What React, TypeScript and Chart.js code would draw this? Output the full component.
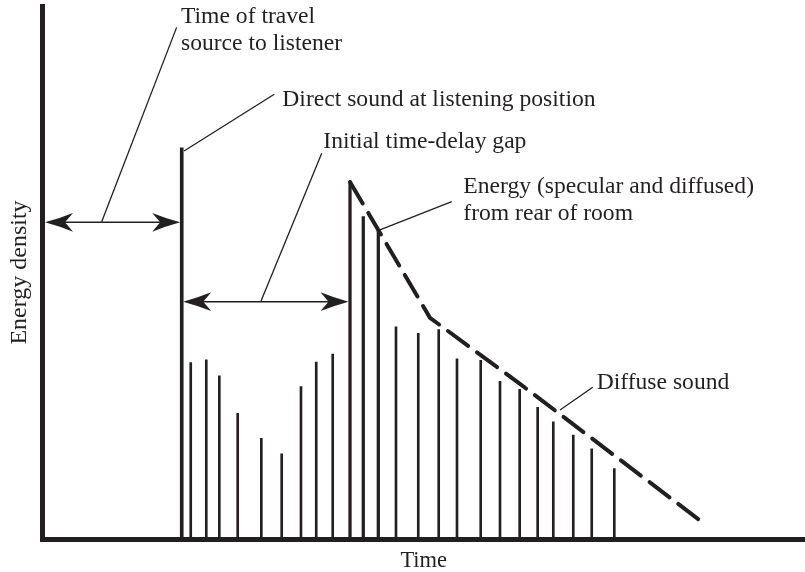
import React, { useEffect, useRef } from 'react';
import { Chart, registerables } from 'chart.js';

Chart.register(...registerables);

const INK = '#231f20';
const FONT = '"Liberation Serif", "Times New Roman", serif';

// Time axis (arbitrary units) and energy-density axis (arbitrary units)
const timeRange = [0, 100];
const levelRange = [0, 100];

// Direct sound
const directTime = [18.26];
const directLevel = [73.4];

// Early reflections inside the initial time-delay gap
const earlyTimes = [19.44, 21.48, 23.19, 25.6, 28.7, 31.37, 33.9, 35.9, 38.06];
const earlyLevels = [33.1, 33.6, 30.6, 23.6, 18.9, 16.0, 28.6, 33.2, 34.7];

// Energy (specular and diffused) from rear of room
const rearTimes = [40.33, 42.07, 44.04];
const rearLevels = [67.0, 60.5, 58.0];

// Diffuse sound
const diffuseTimes = [46.36, 49.28, 51.96, 54.36, 57.47, 60.0, 62.58, 64.94, 66.99, 69.61, 72.03, 74.99];
const diffuseLevels = [39.8, 38.6, 39.3, 33.8, 33.5, 29.6, 28.1, 24.7, 22.0, 19.5, 16.9, 13.2];

// Decay envelope (dashed)
const envelopeTimes = [40.33, 50.82, 62.62, 86.49];
const envelopeLevels = [67.0, 41.5, 29.1, 3.2];

// Annotation labels
const labelTexts = [
  ['Time of travel', 'source to listener'],
  ['Direct sound at listening position'],
  ['Initial time-delay gap'],
  ['Energy (specular and diffused)', 'from rear of room'],
  ['Diffuse sound'],
];
const labelTimes = [18.16, 31.45, 36.83, 55.19, 72.68];
const labelLevels = [96.75, 81.24, 73.36, 64.86, 28.09];

// Leader lines: from label to target
const leaderFromTimes = [17.59, 30.4, 36.62, 53.67, 72.16];
const leaderFromLevels = [95.99, 83.43, 72.36, 63.28, 28.46];
const leaderToTimes = [7.76, 18.56, 28.66, 44.17, 67.87];
const leaderToLevels = [59.53, 72.8, 44.65, 57.97, 24.2];

// Double-headed interval arrows
const arrowStartTimes = [timeRange[0], directTime[0]];
const arrowEndTimes = [directTime[0], rearTimes[0]];
const arrowLevels = [59.42, 44.52];

const pts = (xs: number[], ys: number[]) => xs.map((x, i) => ({ x, y: ys[i] }));

function drawHead(ctx: CanvasRenderingContext2D, tx: number, ty: number, dx: number, dy: number) {
  const len = 28;
  const half = 9.4;
  const notch = 20;
  const nx = -dy;
  const ny = dx;
  const bx = tx - dx * len;
  const by = ty - dy * len;
  const mx = tx - dx * len * 0.5;
  const my = ty - dy * len * 0.5;
  ctx.beginPath();
  ctx.moveTo(tx, ty);
  ctx.quadraticCurveTo(mx + nx * 3.8, my + ny * 3.8, bx + nx * half, by + ny * half);
  ctx.lineTo(tx - dx * notch, ty - dy * notch);
  ctx.lineTo(bx - nx * half, by - ny * half);
  ctx.quadraticCurveTo(mx - nx * 3.8, my - ny * 3.8, tx, ty);
  ctx.closePath();
  ctx.fill();
}

const annotationPlugin = {
  id: 'roomAnnotations',
  afterDatasetsDraw(chart: any) {
    const { ctx } = chart;
    const xs = chart.scales.x;
    const ys = chart.scales.y;
    const px = (v: number) => xs.getPixelForValue(v);
    const py = (v: number) => ys.getPixelForValue(v);
    ctx.save();
    ctx.strokeStyle = INK;
    ctx.fillStyle = INK;

    // leader lines
    ctx.lineWidth = 1.3;
    for (let i = 0; i < leaderFromTimes.length; i++) {
      ctx.beginPath();
      ctx.moveTo(px(leaderFromTimes[i]), py(leaderFromLevels[i]));
      ctx.lineTo(px(leaderToTimes[i]), py(leaderToLevels[i]));
      ctx.stroke();
    }

    // interval arrows
    const insets = [[2.5, 1.5], [1.5, 1.5]];
    ctx.lineWidth = 1.6;
    for (let i = 0; i < arrowLevels.length; i++) {
      const x1 = px(arrowStartTimes[i]) + insets[i][0];
      const x2 = px(arrowEndTimes[i]) - insets[i][1];
      const yy = py(arrowLevels[i]);
      ctx.beginPath();
      ctx.moveTo(x1 + 15, yy);
      ctx.lineTo(x2 - 15, yy);
      ctx.stroke();
      drawHead(ctx, x1, yy, -1, 0);
      drawHead(ctx, x2, yy, 1, 0);
    }

    // labels
    ctx.font = `23.6px ${FONT}`;
    ctx.textAlign = 'left';
    ctx.textBaseline = 'alphabetic';
    for (let i = 0; i < labelTexts.length; i++) {
      const lx = px(labelTimes[i]);
      const ly = py(labelLevels[i]);
      labelTexts[i].forEach((t, j) => ctx.fillText(t, lx, ly + j * 26.5));
    }
    ctx.restore();
  },
};

export default function App() {
  const ref = useRef<HTMLCanvasElement | null>(null);

  useEffect(() => {
    if (!ref.current) return;
    const barBase = { type: 'bar' as const, backgroundColor: INK, borderWidth: 0, grouped: false };
    const chart = new Chart(ref.current, {
      type: 'bar',
      data: {
        datasets: [
          { ...barBase, label: 'Direct sound', data: pts(directTime, directLevel), barThickness: 3 },
          { ...barBase, label: 'Early reflections', data: pts(earlyTimes, earlyLevels), barThickness: 2 },
          { ...barBase, label: 'Rear of room', data: pts(rearTimes, rearLevels), barThickness: 2.6 },
          { ...barBase, label: 'Diffuse sound', data: pts(diffuseTimes, diffuseLevels), barThickness: 2 },
          {
            type: 'line' as const,
            label: 'Envelope',
            data: pts(envelopeTimes, envelopeLevels),
            borderColor: INK,
            borderWidth: 4,
            borderDash: [25, 11],
            borderCapStyle: 'round',
            pointRadius: 0,
            fill: false,
            tension: 0,
          },
        ] as any,
      },
      options: {
        responsive: false,
        animation: false,
        devicePixelRatio: 1,
        layout: { padding: { top: 6, right: 0, bottom: 0, left: 0 } },
        plugins: { legend: { display: false }, tooltip: { enabled: false } },
        scales: {
          x: {
            type: 'linear',
            min: timeRange[0],
            max: timeRange[1],
            offset: false,
            grid: { display: false, drawTicks: false },
            ticks: { display: false },
            border: { display: true, width: 5, color: INK },
            title: {
              display: true,
              text: 'Time',
              color: INK,
              font: { family: FONT, size: 22.5, lineHeight: 1 },
              padding: { top: 10.4, bottom: 0.1 },
            },
          },
          y: {
            type: 'linear',
            min: levelRange[0],
            max: levelRange[1],
            grid: { display: false, drawTicks: false },
            ticks: { display: false },
            border: { display: true, width: 5, color: INK },
            title: {
              display: true,
              text: 'Energy density',
              color: INK,
              font: { family: FONT, size: 24, lineHeight: 1 },
              padding: { top: 8, bottom: 10.5 },
            },
          },
        },
      } as any,
      plugins: [annotationPlugin],
    });
    return () => chart.destroy();
  }, []);

  return (
    <div style={{ position: 'fixed', left: 0, top: 0, width: 805, height: 572, background: '#fff' }}>
      <canvas ref={ref} width={805} height={572} />
    </div>
  );
}
